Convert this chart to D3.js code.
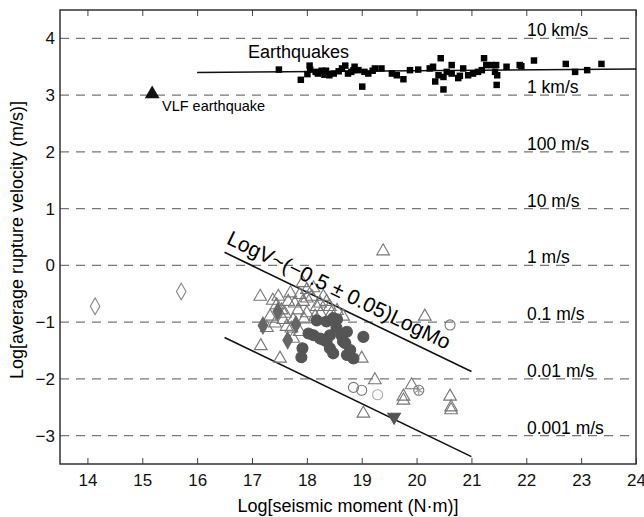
<!DOCTYPE html>
<html>
<head>
<meta charset="utf-8">
<script src="https://cdn.jsdelivr.net/npm/d3@7"></script>
<style>
  body { margin: 0; background: white; }
  text { font-family: "Liberation Sans", Arial, sans-serif; }
</style>
</head>
<body>
<div id="graph"></div>
<script>
//data
let xTicks = [14,15,16,17,18,19,20,21,22,23,24];
let yTicks = [-3,-2,-1,0,1,2,3,4];
let speedLabels = ["0.001 m/s","0.01 m/s","0.1 m/s","1 m/s","10 m/s","100 m/s","1 km/s","10 km/s"];

let earthquakes = [[17.49,3.45],[17.89,3.27],[18.01,3.37],[18.06,3.45],[18.05,3.52],[18.16,3.41],[18.2,3.38],
  [18.27,3.43],[18.32,3.36],[18.35,3.43],[18.41,3.35],[18.49,3.38],[18.58,3.42],[18.64,3.47],[18.7,3.52],
  [18.75,3.38],[18.81,3.41],[18.85,3.44],[18.87,3.5],[18.94,3.44],[19.01,3.15],[19.05,3.41],[19.12,3.38],
  [19.2,3.43],[19.24,3.47],[19.36,3.47],[19.55,3.38],[19.64,3.35],[19.76,3.28],[19.88,3.44],[20.03,3.45],
  [20.24,3.47],[20.3,3.5],[20.34,3.24],[20.4,3.35],[20.44,3.65],[20.49,3.1],[20.49,3.32],[20.55,3.41],
  [20.64,3.53],[20.64,3.38],[20.76,3.3],[20.79,3.34],[20.85,3.47],[20.94,3.35],[21.03,3.38],[21.12,3.41],
  [21.19,3.44],[21.23,3.65],[21.27,3.53],[21.37,3.53],[21.45,3.53],[21.43,3.41],[21.47,3.35],[21.46,3.18],
  [21.64,3.5],[21.88,3.53],[21.91,3.51],[22.14,3.61],[22.72,3.55],[22.89,3.41],[23.11,3.44],[23.37,3.55]];
let vlf = [[15.18,3.02]];

let openTriangles = [[17.15,-0.55],[17.48,-0.55],[17.7,-0.49],[17.92,-0.31],[18.12,-0.4],[18.0,-0.58],
  [18.24,-0.67],[18.42,-0.73],[18.66,-0.9],[17.16,-1.42],[17.51,-1.64],[17.33,-0.9],[17.27,-1.1],[17.75,-1.29],
  [17.78,-0.67],[17.93,-0.64],[18.09,-0.55],[18.18,-0.73],[18.36,-0.64],[18.45,-0.84],[17.42,-1.02],[17.57,-0.96],
  [17.63,-1.08],[17.75,-0.96],[17.84,-0.79],[18.0,-0.84],[17.54,-0.79],[17.45,-0.7],[17.66,-0.64],[17.87,-0.52],
  [18.0,-0.43],[17.87,-1.17],[17.72,-1.11],[18.3,-0.55],[18.55,-0.8],[17.6,-0.85],[17.95,-0.95],[18.15,-0.9],
  [17.38,-0.62],[18.25,-0.85],[19.39,0.25],[19.0,-1.64],[20.15,-0.9],[19.24,-2.02],[19.91,-2.11],[19.76,-2.31],
  [19.76,-2.38],[20.61,-2.31],[20.63,-2.5],[20.63,-2.55],[19.03,-2.61]];
let filledCircles = [[17.92,-1.46],[17.9,-1.62],[18.03,-1.2],[18.12,-1.23],[18.18,-0.97],[18.24,-1.29],
  [18.36,-0.99],[18.36,-1.34],[18.48,-0.93],[18.42,-1.23],[18.42,-1.46],[18.48,-1.55],[18.54,-1.1],[18.63,-1.23],
  [18.66,-1.34],[18.7,-1.37],[18.73,-1.17],[18.73,-1.58],[18.79,-1.49],[18.85,-1.64],[19.03,-1.26],[18.3,-1.31],
  [18.55,-0.95]];
let openCircles = [[18.85,-2.15],[19.0,-2.2],[19.29,-2.28],[20.04,-2.2],[20.61,-1.05]];
let openDiamonds = [[14.14,-0.72],[15.71,-0.46]];
let filledDiamonds = [[17.2,-1.06],[17.47,-0.81],[17.65,-1.32],[17.8,-1.04]];
let downTriangles = [[19.59,-2.67]];
let stars = [[20.04,-2.2]];

let quakeFit = [[16,3.40],[24,3.46]];
let upperLine = [[16.5,0.23],[21,-1.87]];
let lowerLine = [[16.5,-1.27],[21,-3.37]];

let w = 644;
let h = 517;
let mLeft = 60, mRight = 636, mTop = 10, mBottom = 464;

let svg = d3.select("#graph")
              .append("svg")
                .attr("width",w)
                .attr("height",h)
;

let x = d3.scaleLinear().domain([13.5,24]).range([mLeft,mRight]);
let y = d3.scaleLinear().domain([-3.5,4.5]).range([mBottom,mTop]);

//dashed grid
svg.selectAll("grid").data(yTicks).enter()
    .append("line")
      .attr("x1",mLeft)
      .attr("x2",mRight)
      .attr("y1",d=>y(d))
      .attr("y2",d=>y(d))
      .attr("stroke","#777")
      .attr("stroke-width",1.2)
      .attr("stroke-dasharray","9,7")
;

//speed labels
svg.selectAll("speeds").data(speedLabels).enter()
    .append("text")
      .attr("x",527)
      .attr("y",(d,i)=>y(yTicks[i])-2)
      .attr("font-size",17.5)
      .text(d=>d)
;

//axes with inward ticks
svg.append("g")
    .attr("transform","translate(0,"+mBottom+")")
    .call(d3.axisBottom(x).tickValues(xTicks).tickSize(-6).tickPadding(10))
    .call(g=>g.select(".domain").remove())
;
svg.append("g")
    .attr("transform","translate(0,"+mTop+")")
    .call(d3.axisTop(x).tickValues(xTicks).tickSize(-6).tickFormat(""))
    .call(g=>g.select(".domain").remove())
;
svg.append("g")
    .attr("transform","translate("+mLeft+",0)")
    .call(d3.axisLeft(y).tickValues(yTicks).tickSize(0).tickPadding(5).tickFormat(d=>d<0?"\u2212"+(-d):d))
    .call(g=>g.select(".domain").remove())
;
svg.selectAll(".tick text").attr("font-size",17).attr("fill","#111");
svg.selectAll(".tick line").attr("stroke","#444");

svg.append("rect")
    .attr("x",mLeft)
    .attr("y",mTop)
    .attr("width",mRight-mLeft)
    .attr("height",mBottom-mTop)
    .attr("fill","none")
    .attr("stroke","#333")
    .attr("stroke-width",1.5)
;

//fit lines
let line = d3.line().x(d=>x(d[0])).y(d=>y(d[1]));
[quakeFit,upperLine,lowerLine].forEach(function(l){
  svg.append("path")
      .attr("d",line(l))
      .attr("fill","none")
      .attr("stroke","#111")
      .attr("stroke-width",1.6)
  ;
});

function symbols(data, type, size, fill, stroke, rot){
  svg.selectAll("sym").data(data).enter()
      .append("path")
        .attr("d",d3.symbol().type(type).size(size))
        .attr("transform",d=>"translate("+x(d[0])+","+y(d[1])+")"+(rot?" rotate(180)":""))
        .attr("fill",fill)
        .attr("stroke",stroke)
        .attr("stroke-width",1.1)
  ;
}

symbols(earthquakes, d3.symbolSquare, 42, "#000", "none");
symbols(vlf, d3.symbolTriangle, 95, "#111", "none");
symbols(openDiamonds, d3.symbolDiamond, 80, "white", "#888");
symbols(openTriangles, d3.symbolTriangle, 70, "none", "#777");
symbols(filledDiamonds, d3.symbolDiamond, 80, "#666", "#666");
symbols(filledCircles, d3.symbolCircle, 95, "#555", "#555");
symbols(openCircles.slice(0,2), d3.symbolCircle, 80, "none", "#777");
symbols(openCircles.slice(2,3), d3.symbolCircle, 80, "none", "#aaa");
symbols(openCircles.slice(3), d3.symbolCircle, 80, "none", "#777");
symbols(stars, d3.symbolAsterisk, 60, "none", "#999");
symbols(downTriangles, d3.symbolTriangle, 70, "#555", "#555", true);

//text labels
svg.append("text").attr("x",248).attr("y",58).attr("font-size",18).text("Earthquakes");
svg.append("text").attr("x",162).attr("y",111).attr("font-size",14.5).text("VLF earthquake");

let ang = Math.atan2(y(upperLine[1][1])-y(upperLine[0][1]), x(upperLine[1][0])-x(upperLine[0][0]))*180/Math.PI;
svg.append("text")
    .attr("transform","translate("+(x(upperLine[0][0])+1)+","+(y(upperLine[0][1])-9)+") rotate("+ang+")")
    .attr("font-size",21)
    .text("LogV~(\u22120.5 \u00b1 0.05)LogMo")
;

svg.append("text")
    .attr("x",(mLeft+mRight)/2)
    .attr("y",512)
    .attr("text-anchor","middle")
    .attr("font-size",18)
    .text("Log[seismic moment (N\u00b7m)]")
;
svg.append("text")
    .attr("transform","translate(23,240) rotate(-90)")
    .attr("text-anchor","middle")
    .attr("font-size",18)
    .text("Log[average rupture velocity (m/s)]")
;
</script>
</body>
</html>
